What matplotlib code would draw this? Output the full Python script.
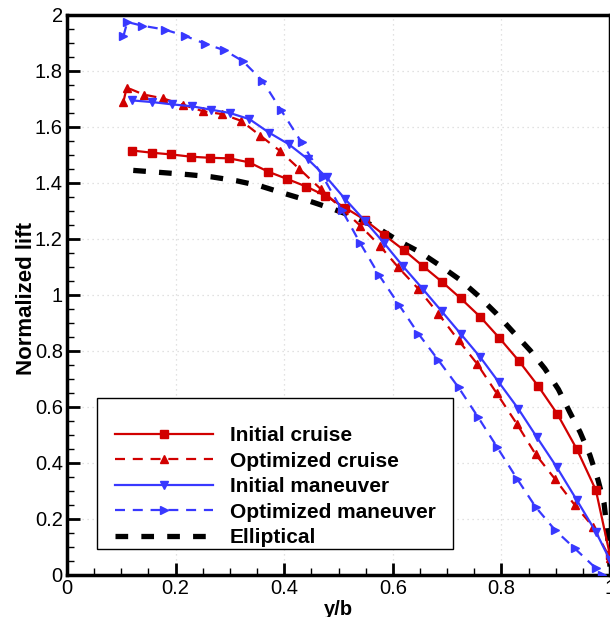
import matplotlib

matplotlib.use("Agg")

from matplotlib import pyplot as plt
from matplotlib.patches import Rectangle
from matplotlib.ticker import MultipleLocator

plt.rcParams["font.family"] = ["Liberation Sans", "DejaVu Sans"]

# spanwise position y/b and normalized lift
init_cruise_x = [0.120, 0.157, 0.192, 0.228, 0.263, 0.299, 0.335, 0.371, 0.406, 0.441, 0.476, 0.512, 0.548,
                 0.583, 0.620, 0.655, 0.690, 0.725, 0.761, 0.796, 0.832, 0.868, 0.903, 0.939, 0.974, 1.0]
init_cruise_y = [1.516, 1.508, 1.502, 1.494, 1.490, 1.488, 1.474, 1.440, 1.414, 1.387, 1.354, 1.312, 1.269,
                 1.216, 1.161, 1.104, 1.048, 0.988, 0.922, 0.847, 0.765, 0.674, 0.575, 0.449, 0.303, 0.07]

opt_cruise_x = [0.104, 0.110, 0.141, 0.177, 0.214, 0.251, 0.286, 0.321, 0.356, 0.392, 0.428, 0.467, 0.505,
                0.540, 0.576, 0.610, 0.647, 0.684, 0.721, 0.755, 0.791, 0.828, 0.863, 0.899, 0.935, 0.969, 1.0]
opt_cruise_y = [1.691, 1.741, 1.716, 1.702, 1.679, 1.656, 1.646, 1.622, 1.569, 1.515, 1.450, 1.379, 1.310,
                1.248, 1.176, 1.099, 1.022, 0.933, 0.838, 0.755, 0.650, 0.541, 0.431, 0.342, 0.250, 0.172, 0.06]

init_man_x = [0.120, 0.157, 0.193, 0.230, 0.265, 0.300, 0.336, 0.372, 0.408, 0.443, 0.478, 0.512, 0.548,
              0.584, 0.619, 0.655, 0.690, 0.726, 0.761, 0.795, 0.831, 0.865, 0.902, 0.939, 0.974, 1.0]
init_man_y = [1.695, 1.689, 1.681, 1.674, 1.662, 1.650, 1.628, 1.580, 1.539, 1.486, 1.420, 1.343, 1.266,
              1.185, 1.102, 1.022, 0.942, 0.859, 0.778, 0.689, 0.594, 0.493, 0.385, 0.267, 0.154, 0.053]

opt_man_x = [0.104, 0.111, 0.138, 0.180, 0.218, 0.255, 0.290, 0.324, 0.360, 0.394, 0.432, 0.472, 0.506,
             0.540, 0.575, 0.611, 0.647, 0.684, 0.721, 0.757, 0.792, 0.829, 0.863, 0.899, 0.935, 0.974, 0.985]
opt_man_y = [1.925, 1.975, 1.962, 1.948, 1.925, 1.897, 1.874, 1.835, 1.765, 1.661, 1.545, 1.420, 1.304,
             1.185, 1.070, 0.966, 0.862, 0.767, 0.670, 0.564, 0.457, 0.343, 0.243, 0.160, 0.095, 0.024, 0.0]

ellip_x = [0.122, 0.177, 0.223, 0.266, 0.312, 0.355, 0.398, 0.441, 0.490, 0.527, 0.570, 0.610, 0.650, 0.687,
           0.724, 0.757, 0.791, 0.822, 0.853, 0.880, 0.905, 0.926, 0.945, 0.963, 0.978, 0.989, 0.994, 0.998, 1.0]
ellip_y = [1.445, 1.437, 1.430, 1.422, 1.408, 1.390, 1.364, 1.339, 1.307, 1.280, 1.242, 1.194, 1.153, 1.105,
           1.054, 0.998, 0.933, 0.867, 0.802, 0.737, 0.663, 0.581, 0.510, 0.428, 0.339, 0.257, 0.171, 0.089, 0.03]

RED = "#d10000"
BLUE = "#3838ff"

fig = plt.figure(figsize=(6.10, 6.17), dpi=100)
ax = fig.add_axes([67 / 610, 42 / 617, 543 / 610, 560 / 617])

ax.plot(init_cruise_x, init_cruise_y, color=RED, lw=1.6, marker="s", ms=5.5, label="Initial cruise", zorder=4)
ax.plot(opt_cruise_x, opt_cruise_y, color=RED, lw=1.6, marker="^", ms=6, dashes=(4.5, 3.5),
        label="Optimized cruise", zorder=4)
ax.plot(init_man_x, init_man_y, color=BLUE, lw=1.6, marker="v", ms=6, label="Initial maneuver", zorder=4)
ax.plot(opt_man_x, opt_man_y, color=BLUE, lw=1.6, marker=">", ms=6, dashes=(4.5, 3.5),
        label="Optimized maneuver", zorder=4)
ax.plot(ellip_x, ellip_y, color="black", lw=3.8, dashes=(2.4, 2.5), label="Elliptical", zorder=3)

ax.set_xlim(0, 1)
ax.set_ylim(0, 2)
ax.xaxis.set_major_locator(MultipleLocator(0.2))
ax.xaxis.set_minor_locator(MultipleLocator(0.05))
ax.yaxis.set_major_locator(MultipleLocator(0.2))
ax.yaxis.set_minor_locator(MultipleLocator(0.05))
ax.xaxis.set_major_formatter(lambda v, p: f"{v:g}")
ax.yaxis.set_major_formatter(lambda v, p: f"{v:g}")
ax.tick_params(which="major", direction="in", length=9, width=2, labelsize=14.5, pad=3)
ax.tick_params(which="minor", direction="in", length=5, width=1)
ax.tick_params(top=False, right=False)
for sp in ax.spines.values():
    sp.set_linewidth(2.5)

ax.grid(which="major", color="#d8d8d8", ls=(0, (1, 3)), lw=0.9, zorder=0)
ax.set_xlabel("y/b", fontsize=14.5, fontweight="bold")
ax.xaxis.set_label_coords(0.5, -0.044)
ax.set_ylabel("Normalized lift", fontsize=16, fontweight="bold")
ax.yaxis.set_label_coords(-0.055, 0.493)

# legend box
ax.add_patch(Rectangle((30 / 543, 26 / 561), 356 / 543, 151 / 561, transform=ax.transAxes,
                       facecolor="white", edgecolor="black", lw=1.0, zorder=6))
leg = ax.legend(loc="upper left", bbox_to_anchor=(38 / 543, 159.5 / 561), frameon=False, borderpad=0,
                handlelength=4.66, handletextpad=0.82, labelspacing=0.31,
                prop={"size": 15, "weight": "bold"})
leg.set_zorder(7)

fig.savefig("out.png", dpi=100)
